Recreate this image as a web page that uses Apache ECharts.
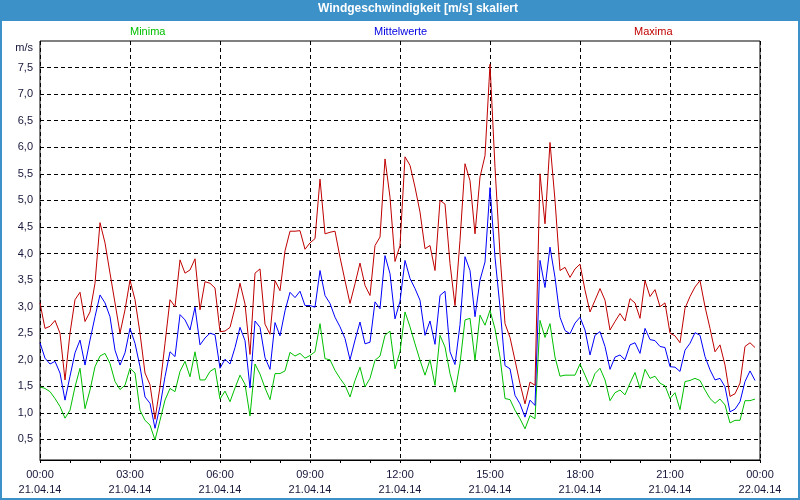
<!DOCTYPE html>
<html>
<head>
<meta charset="utf-8">
<script src="https://cdn.jsdelivr.net/npm/echarts/dist/echarts.min.js"></script>
<style>
  html, body { margin: 0; padding: 0; background: #ffffff; }
  #chart { width: 800px; height: 500px; }
</style>
</head>
<body>
<div id="chart"></div>
<script>
// ---- data (10-minute values, 21.04.14 00:00 .. 23:50) ----
const chartTitle = 'Windgeschwindigkeit [m/s] skaliert';
const seriesNames = ['Minima', 'Mittelwerte', 'Maxima'];
const stepHours = 10 / 60;
const xTickLabels = [
  '00:00\n21.04.14', '03:00\n21.04.14', '06:00\n21.04.14', '09:00\n21.04.14',
  '12:00\n21.04.14', '15:00\n21.04.14', '18:00\n21.04.14', '21:00\n21.04.14',
  '00:00\n22.04.14'
];

const maxima = [
  3.07, 2.59, 2.63, 2.74, 2.5, 1.62, 2.5, 3.13, 3.27, 2.72, 2.9, 3.44, 4.58, 4.2, 3.63, 3.07, 2.5, 2.94, 3.5,
  3.13, 2.5, 1.75, 1.53, 0.88, 1.49, 2.31, 3.13, 3.0, 3.88, 3.63, 3.69, 3.9, 2.94, 3.47, 3.44, 3.35, 2.53,
  2.54, 2.61, 2.98, 3.44, 3.05, 2.1, 3.63, 3.71, 2.67, 2.48, 3.49, 3.3, 4.05, 4.42, 4.42, 4.43, 4.08, 4.2,
  4.28, 5.4, 4.37, 4.4, 4.42, 3.93, 3.49, 3.06, 3.43, 3.82, 3.4, 3.21, 4.15, 4.31, 5.78, 5.06, 3.85,
  4.15,
  5.82, 5.66, 5.25, 4.78, 4.09, 4.15, 3.68, 5.0, 4.93, 3.81, 3.02, 4.25, 5.69, 5.37, 4.37, 5.44, 5.84, 7.56,
  5.62, 3.99, 2.68, 2.42, 1.99, 1.55, 1.17, 1.58, 1.52, 5.5, 4.56, 6.09, 5.0, 3.68, 3.74, 3.55, 3.71, 3.8,
  3.31, 2.9, 3.12, 3.34, 3.12, 2.56, 2.72, 2.87, 2.73, 3.15, 3.07, 2.78, 3.49, 3.19, 3.32, 3.0, 3.07, 2.5,
  2.45, 2.32, 2.97, 3.19, 3.37, 3.49, 3.0, 2.59, 2.15, 2.28, 1.9, 1.31, 1.36, 1.56, 2.25, 2.32, 2.23
];

const mittelwerte = [
  2.32, 2.03, 1.92, 1.97, 1.75, 1.24, 1.69, 2.13, 2.37, 1.9, 2.37, 2.81, 3.22, 3.07, 2.81, 2.18, 1.9, 2.13, 2.59,
  2.31, 1.87, 1.3, 1.18, 0.71, 1.12, 1.68, 2.15, 2.06, 2.85, 2.75, 2.56, 2.99, 2.28, 2.41, 2.5, 2.47, 1.84,
  2.01, 1.92, 2.23, 2.61, 2.36, 1.47, 2.73, 2.61, 2.04, 1.82, 2.7, 2.45, 2.92, 3.27, 3.17, 3.29, 3.02, 3.02,
  2.99, 3.68, 3.21, 3.06, 2.8, 2.62, 2.4, 2.0, 2.37, 2.71, 2.3, 2.33, 3.09, 2.96, 3.96, 3.62, 2.77,
  3.1,
  3.87, 3.53, 3.34, 3.12, 2.46, 2.73, 2.29, 3.21, 3.29, 2.15, 1.91, 2.66, 3.94, 3.68, 2.81, 3.5, 3.84, 5.24,
  3.93, 2.99, 1.89, 1.83, 1.33, 1.17, 0.92, 1.24, 1.14, 3.87, 3.36, 4.12, 3.55, 2.8, 2.55, 2.49, 2.69, 2.8,
  2.56, 2.09, 2.46, 2.53, 2.25, 1.82, 2.05, 2.09, 2.0, 2.28, 2.32, 2.12, 2.59, 2.38, 2.36, 2.25, 2.23, 1.87,
  1.86, 1.78, 2.18, 2.31, 2.51, 2.46, 2.06, 1.81, 1.62, 1.65, 1.49, 1.02, 1.07, 1.21, 1.59, 1.79, 1.61
];

const minima = [
  1.49, 1.46, 1.4, 1.27, 1.12, 0.9, 1.05, 1.49, 1.84, 1.08, 1.43, 1.87, 2.07, 2.12, 1.93, 1.59, 1.44, 1.52, 1.84,
  1.75, 1.05, 0.86, 0.77, 0.49, 0.86, 1.24, 1.46, 1.4, 1.78, 1.97, 1.68, 2.15, 1.62, 1.62, 1.78, 1.84, 1.26,
  1.41, 1.21, 1.47, 1.71, 1.54, 0.94, 1.92, 1.73, 1.47, 1.25, 1.74, 1.74, 1.79, 2.14, 2.07, 2.12, 2.03, 2.08,
  2.15, 2.68, 2.02, 2.0, 1.8, 1.65, 1.52, 1.3, 1.61, 1.86, 1.49, 1.65, 1.99, 2.07, 2.46, 2.54, 1.83,
  2.15,
  2.9, 2.62, 2.3, 1.99, 1.71, 2.0, 1.52, 2.46, 2.24, 1.74, 1.39, 1.93, 2.75, 2.78, 1.99, 2.84, 2.65, 2.93,
  2.58, 2.05, 1.27, 1.25, 1.05, 0.89, 0.7, 0.95, 0.89, 2.74, 2.42, 2.68, 2.05, 1.69, 1.71, 1.71, 1.71, 1.92,
  1.71, 1.49, 1.74, 1.84, 1.62, 1.23, 1.38, 1.43, 1.34, 1.56, 1.76, 1.46, 1.82, 1.65, 1.69, 1.56, 1.51, 1.27,
  1.38, 1.06, 1.59, 1.61, 1.65, 1.61, 1.43, 1.27, 1.18, 1.26, 1.15, 0.81, 0.86, 0.86, 1.23, 1.23, 1.26
];

// ---- styling ----
const FONT = "'Liberation Sans', Arial, sans-serif";
const frameBlue = '#3c91c8';
const textDark = '#16163a';
const colMin = '#00c000';
const colMid = '#0000ff';
const colMax = '#c00000';

function toPairs(arr) {
  return arr.map((v, i) => [i * stepHours, v]);
}

const chart = echarts.init(document.getElementById('chart'), null, { renderer: 'canvas' });

function oneLegend(name, left, color) {
  return {
    data: [name],
    left: left,
    top: 26,
    padding: 0,
    itemWidth: 0,
    itemHeight: 0,
    itemGap: 0,
    icon: 'rect',
    selectedMode: false,
    textStyle: { color: color, fontSize: 11, fontFamily: FONT }
  };
}

const option = {
  animation: false,
  backgroundColor: '#ffffff',
  textStyle: { fontFamily: FONT },
  title: {
    text: chartTitle,
    left: 418,
    textAlign: 'center',
    top: 3,
    z: 10,
    padding: 0,
    textStyle: { color: '#ffffff', fontSize: 12, fontWeight: 'bold', fontFamily: FONT }
  },
  graphic: [
    { type: 'rect', z: 1, shape: { x: 0, y: 0, width: 800, height: 21 }, style: { fill: frameBlue } },
    { type: 'rect', z: 1, shape: { x: 0, y: 0, width: 2, height: 500 }, style: { fill: frameBlue } },
    { type: 'rect', z: 1, shape: { x: 798, y: 0, width: 2, height: 500 }, style: { fill: frameBlue } },
    { type: 'rect', z: 1, shape: { x: 0, y: 498, width: 800, height: 2 }, style: { fill: frameBlue } }
  ],
  legend: [
    oneLegend(seriesNames[0], 125, colMin),
    oneLegend(seriesNames[1], 369, '#0000e0'),
    oneLegend(seriesNames[2], 629, colMax)
  ],
  grid: [
    // value grid: 0 .. 8 m/s
    { left: 40, top: 41, width: 720, height: 425, show: false },
    // frame grid with time axis
    { left: 40, top: 41, width: 720, height: 419, show: true, borderColor: '#000000', borderWidth: 1, backgroundColor: 'transparent' }
  ],
  xAxis: [
    { type: 'value', gridIndex: 0, min: 0, max: 24, show: false },
    {
      type: 'value', gridIndex: 1, min: 0, max: 24, interval: 3,
      axisLine: { show: true, onZero: false, lineStyle: { color: '#000000', width: 1 } },
      axisTick: { show: true, length: 3, lineStyle: { color: '#000000' } },
      minorTick: { show: true, splitNumber: 3, length: 3, lineStyle: { color: '#000000' } },
      splitLine: { show: true, lineStyle: { color: '#000000', type: [4, 3], width: 1 } },
      axisLabel: {
        margin: 7,
        color: textDark,
        fontSize: 11,
        lineHeight: 15.5,
        fontFamily: FONT,
        formatter: function (v) { return xTickLabels[Math.round(v / 3)] || ''; }
      }
    }
  ],
  yAxis: [
    {
      type: 'value', gridIndex: 0, min: 0, max: 8, interval: 0.5,
      name: 'm/s',
      nameLocation: 'end',
      nameGap: -12,
      nameTextStyle: { color: textDark, fontSize: 11, fontFamily: FONT, align: 'right', padding: [0, 7, 0, 0] },
      axisLine: { show: false },
      axisTick: { show: false },
      axisLabel: {
        margin: 7,
        color: textDark,
        fontSize: 11,
        fontFamily: FONT,
        formatter: function (v) {
          if (v <= 0.01 || v >= 7.99) return '';
          return v.toFixed(1).replace('.', ',');
        }
      },
      splitLine: { show: true, showMinLine: false, showMaxLine: false, lineStyle: { color: '#000000', type: [4, 3], width: 1 } }
    },
    { type: 'value', gridIndex: 1, min: 0, max: 1, show: false, splitLine: { show: false } }
  ],
  series: [
    {
      name: seriesNames[0], type: 'line', xAxisIndex: 0, yAxisIndex: 0,
      data: toPairs(minima), showSymbol: false, symbol: 'none',
      lineStyle: { color: colMin, width: 1 }, itemStyle: { color: colMin }
    },
    {
      name: seriesNames[1], type: 'line', xAxisIndex: 0, yAxisIndex: 0,
      data: toPairs(mittelwerte), showSymbol: false, symbol: 'none',
      lineStyle: { color: colMid, width: 1 }, itemStyle: { color: colMid }
    },
    {
      name: seriesNames[2], type: 'line', xAxisIndex: 0, yAxisIndex: 0,
      data: toPairs(maxima), showSymbol: false, symbol: 'none',
      lineStyle: { color: colMax, width: 1 }, itemStyle: { color: colMax }
    }
  ]
};

chart.setOption(option);
</script>
</body>
</html>
